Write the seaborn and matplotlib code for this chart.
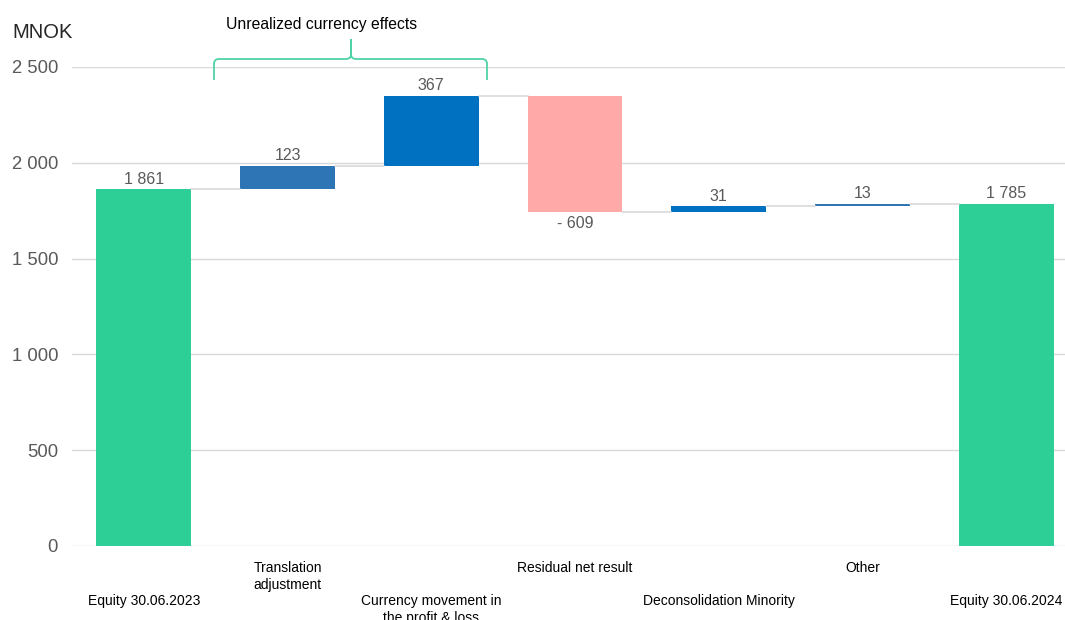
import matplotlib
matplotlib.use("Agg")
import matplotlib.pyplot as plt
import seaborn as sns
import numpy as np
from matplotlib.path import Path
from matplotlib.patches import PathPatch

# ---- data ----
categories = ["Equity 30.06.2023", "Translation\nadjustment",
              "Currency movement in\nthe profit & loss", "Residual net result",
              "Deconsolidation Minority", "Other", "Equity 30.06.2024"]
changes = [1861, 123, 367, -609, 31, 13, 1785]
is_total = [True, False, False, False, False, False, True]
value_labels = ["1 861", "123", "367", "- 609", "31", "13", "1 785"]
bar_colors = ["#2ECF96", "#2E75B6", "#0070C0", "#FFA9A9", "#0070C0", "#2E75B6", "#2ECF96"]
yticks = [0, 500, 1000, 1500, 2000, 2500]
ytick_labels = ["0", "500", "1 000", "1 500", "2 000", "2 500"]
bracket_title = "Unrealized currency effects"

# waterfall geometry derived from data
bottoms, heights, levels = [], [], []
running = 0
for v, tot in zip(changes, is_total):
    if tot:
        bottoms.append(0); heights.append(v); running = v
    else:
        if v >= 0:
            bottoms.append(running); heights.append(v)
        else:
            bottoms.append(running + v); heights.append(-v)
        running += v
    levels.append(running)

sns.set_theme(style="white")
plt.rcParams['font.family'] = ['Liberation Sans', 'DejaVu Sans']

fig = plt.figure(figsize=(10.65, 6.2), dpi=100)
ax = fig.add_axes([72 / 1065, 1 - 546 / 620, 1 - 72 / 1065, (546 - 67) / 620])

bw = 0.66
sns.barplot(x=list(range(len(categories))), y=heights, hue=list(range(len(categories))),
            palette=bar_colors, legend=False, width=bw, ax=ax, saturation=1,
            linewidth=0)
for p, b in zip(ax.patches, bottoms):
    p.set_y(b)

# connectors
for i in range(len(categories) - 1):
    ax.plot([i + bw / 2, i + 1 - bw / 2], [levels[i], levels[i]],
            color="#D9D9D9", lw=1.2, zorder=1)

# value labels
for i, (v, b, h) in enumerate(zip(changes, bottoms, heights)):
    if v < 0:
        ax.annotate(value_labels[i], (i, b), xytext=(0, -3), textcoords="offset points",
                    ha="center", va="top", fontsize=11.5, color="#595959")
    else:
        ax.annotate(value_labels[i], (i, b + h), xytext=(0, 2), textcoords="offset points",
                    ha="center", va="bottom", fontsize=11.5, color="#595959")

ax.set_ylim(0, 2500)
ax.set_xlim(-0.5, 6.41)
ax.set_yticks(yticks)
ax.set_yticklabels(ytick_labels, fontsize=13.3, color="#595959")
ax.yaxis.grid(True, color="#D9D9D9", lw=1)
ax.set_axisbelow(True)
for s in ax.spines.values():
    s.set_visible(False)
ax.tick_params(axis="y", length=0, pad=10)
ax.tick_params(axis="x", length=0, pad=11)

xlabels = [("\n\n" + c) if i % 2 == 0 else c for i, c in enumerate(categories)]
ax.set_xticks(range(len(categories)))
ax.set_xticklabels(xlabels, fontsize=10, color="#000000", linespacing=1.22, va="top")
ax.set_xlabel(""); ax.set_ylabel("")

fig.text(12 / 1065, 1 - 33 / 620, "MNOK", fontsize=14.5, color="#262626", va="center", ha="left")

# bracket (figure pixel coords)
def px(x, y):
    return (x / 1065, 1 - y / 620)

xl, xr, xm = 214, 487, 351
yh, ye, yt, r = 59, 80, 39, 5
verts = [px(xl, ye), px(xl, yh + r), px(xl, yh), px(xl + r, yh),
         px(xm - r, yh), px(xm, yh), px(xm, yh - r), px(xm, yt),
         px(xm, yt), px(xm, yh - r), px(xm, yh), px(xm + r, yh),
         px(xr - r, yh), px(xr, yh), px(xr, yh + r), px(xr, ye)]
codes = [Path.MOVETO, Path.LINETO, Path.CURVE3, Path.CURVE3,
         Path.LINETO, Path.CURVE3, Path.CURVE3, Path.LINETO,
         Path.MOVETO, Path.LINETO, Path.CURVE3, Path.CURVE3,
         Path.LINETO, Path.CURVE3, Path.CURVE3, Path.LINETO]
fig.add_artist(PathPatch(Path(verts, codes), transform=fig.transFigure, fill=False,
                         edgecolor="#4FD3A6", lw=1.3))
fig.text(322 / 1065, 1 - 24 / 620, bracket_title, fontsize=11.3, color="#000000",
         ha="center", va="center")

fig.savefig("out.png", dpi=100)
